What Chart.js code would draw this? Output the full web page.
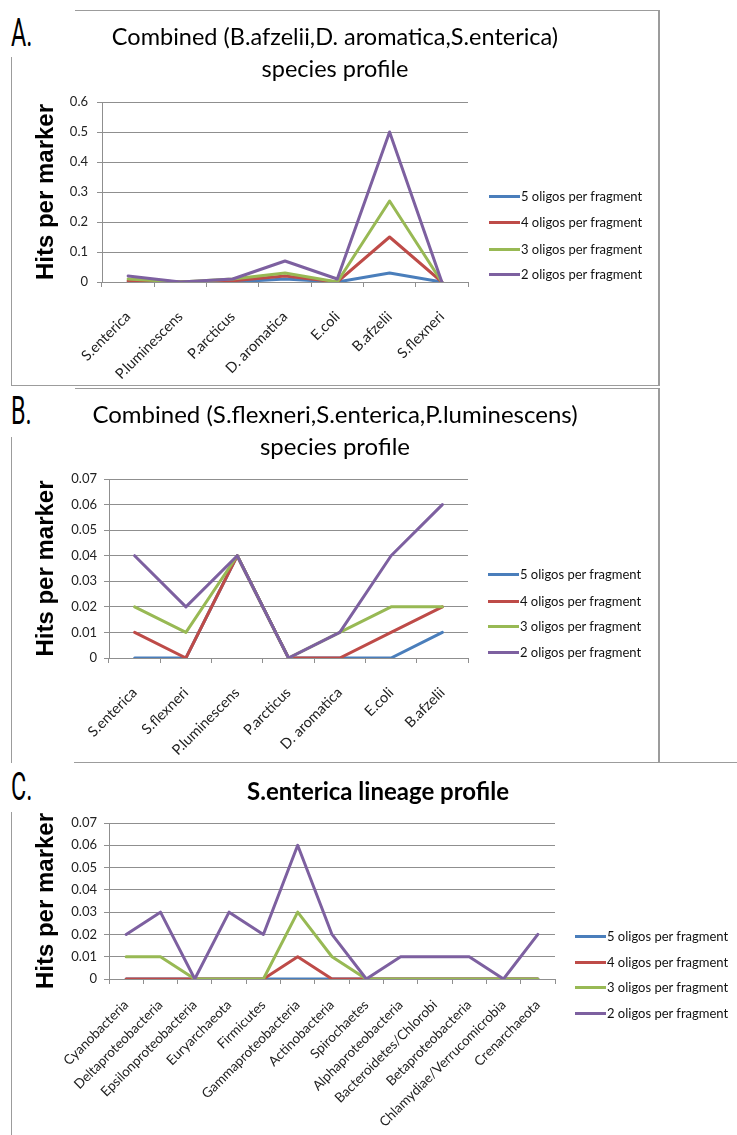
<!DOCTYPE html>
<html>
<head>
<meta charset="utf-8">
<title>Hits per marker profiles</title>
<script src="https://cdn.jsdelivr.net/npm/chart.js@4.4.0/dist/chart.umd.min.js"></script>
<style>
  html, body { margin: 0; padding: 0; background: #fff; }
  #page { position: relative; width: 737px; height: 1135px; overflow: hidden; }
  #page canvas { position: absolute; }
  .rule { position: absolute; background: #9c9c9c; }
  .letter {
    position: absolute; left: 11px; font-family: Roboto, "DejaVu Sans", sans-serif; font-weight: 400;
    font-size: 39px; line-height: 39px; color: #000; transform: scaleX(0.6); transform-origin: left top;
  }
  .legend { position: absolute; font-family: Lato, sans-serif; font-size: 13px; color: #111; }
  .legend div { position: absolute; white-space: nowrap; display: flex; align-items: center; height: 18px; }
  .legend span.swatch { display: inline-block; width: 31px; height: 3px; margin-right: 1px; }
</style>
</head>
<body>
<div id="page">
  <!-- panel frames -->
  <div class="rule" style="left:75px;top:10px;width:585px;height:1px"></div>
  <div class="rule" style="left:658px;top:10px;width:2px;height:376px"></div>
  <div class="rule" style="left:11px;top:385px;width:649px;height:1px"></div>
  <div class="rule" style="left:11px;top:57px;width:1px;height:329px"></div>

  <div class="rule" style="left:75px;top:388px;width:585px;height:1px"></div>
  <div class="rule" style="left:658px;top:388px;width:2px;height:375px"></div>
  <div class="rule" style="left:11px;top:437px;width:1px;height:326px"></div>

  <div class="rule" style="left:74px;top:762px;width:663px;height:1px"></div>
  <div class="rule" style="left:11px;top:812px;width:1px;height:323px"></div>

  <div class="letter" style="top:14px">A.</div>
  <div class="letter" style="top:392px">B.</div>
  <div class="letter" style="top:768px">C.</div>

  <canvas id="chartA" style="left:12px;top:12px" width="646" height="370"></canvas>
  <canvas id="chartB" style="left:12px;top:390px" width="646" height="368"></canvas>
  <canvas id="chartC" style="left:12px;top:765px" width="732" height="370"></canvas>

  <div class="legend" id="legendA"></div>
  <div class="legend" id="legendB"></div>
  <div class="legend" id="legendC"></div>
</div>

<script>
const seriesNames = ["5 oligos per fragment", "4 oligos per fragment", "3 oligos per fragment", "2 oligos per fragment"];
const seriesColors = ["#4a7ebb", "#be4b48", "#98b954", "#7d60a0"];

// A: combined B.afzelii / D. aromatica / S.enterica
const speciesA = ["S.enterica", "P.luminescens", "P.arcticus", "D. aromatica", "E.coli", "B.afzelii", "S.flexneri"];
const a5 = [0, 0, 0, 0.01, 0, 0.03, 0];
const a4 = [0.004, 0, 0.004, 0.02, 0, 0.15, 0];
const a3 = [0.01, 0, 0.01, 0.03, 0, 0.27, 0];
const a2 = [0.02, 0, 0.01, 0.07, 0.01, 0.5, 0];

// B: combined S.flexneri / S.enterica / P.luminescens
const speciesB = ["S.enterica", "S.flexneri", "P.luminescens", "P.arcticus", "D. aromatica", "E.coli", "B.afzelii"];
const b5 = [0, 0, 0.04, 0, 0, 0, 0.01];
const b4 = [0.01, 0, 0.04, 0, 0, 0.01, 0.02];
const b3 = [0.02, 0.01, 0.04, 0, 0.01, 0.02, 0.02];
const b2 = [0.04, 0.02, 0.04, 0, 0.01, 0.04, 0.06];

// C: S.enterica lineages
const lineages = ["Cyanobacteria", "Deltaproteobacteria", "Epsilonproteobacteria", "Euryarchaeota", "Firmicutes",
  "Gammaproteobacteria", "Actinobacteria", "Spirochaetes", "Alphaproteobacteria", "Bacteroidetes/Chlorobi",
  "Betaproteobacteria", "Chlamydiae/Verrucomicrobia", "Crenarchaeota"];
const c5 = [0, 0, 0, 0, 0, 0, 0, 0, 0, 0, 0, 0, 0];
const c4 = [0, 0, 0, 0, 0, 0.01, 0, 0, 0, 0, 0, 0, 0];
const c3 = [0.01, 0.01, 0, 0, 0, 0.03, 0.01, 0, 0, 0, 0, 0, 0];
const c2 = [0.02, 0.03, 0, 0.03, 0.02, 0.06, 0.02, 0, 0.01, 0.01, 0.01, 0, 0.02];

const gridColor = "#8f8f8f";
const yTickFont = { family: "Lato, sans-serif", size: 13 };

function buildChart(cfg) {
    const datasets = cfg.values.map((vals, i) => ({
        label: seriesNames[i],
        data: vals,
        borderColor: seriesColors[i],
        backgroundColor: seriesColors[i],
        borderWidth: 3,
        borderJoinStyle: "round",
        borderCapStyle: "round",
        pointRadius: 0,
        tension: 0,
        order: cfg.values.length - i, // 2 oligos drawn on top
    }));

    const chart = new Chart(document.getElementById(cfg.canvas), {
        type: "line",
        data: { labels: cfg.labels, datasets },
        options: {
            responsive: false,
            animation: false,
            events: [],
            layout: { padding: 0 },
            plugins: {
                legend: { display: false },
                tooltip: { enabled: false },
                title: {
                    display: true,
                    text: cfg.title,
                    color: "#000",
                    font: { family: "Lato, sans-serif", size: cfg.titleSize, weight: cfg.bold ? "bold" : "normal", lineHeight: "32px" },
                    padding: cfg.titlePadding,
                },
            },
            scales: {
                x: {
                    offset: true,
                    grid: { offset: true, drawOnChartArea: false, tickLength: 5, color: gridColor },
                    border: { color: gridColor },
                    ticks: {
                        minRotation: 45, maxRotation: 45, autoSkip: false,
                        padding: cfg.xPad, color: "#222",
                        font: { family: "Lato, sans-serif", size: cfg.xFont },
                    },
                    afterFit: (s) => { s.height = cfg.xHeight; },
                },
                y: {
                    min: 0,
                    max: cfg.yMax,
                    ticks: { stepSize: cfg.yStep, padding: cfg.tickPad, color: "#222", font: yTickFont },
                    grid: { color: gridColor, tickLength: 5 },
                    border: { color: gridColor },
                    title: {
                        display: true,
                        text: "Hits per marker",
                        color: "#000",
                        font: { family: "'Liberation Sans', Arial, sans-serif", size: 24, weight: "bold" },
                        padding: { top: 20, bottom: 0 },
                    },
                    afterFit: (s) => { s.width = cfg.yWidth; },
                },
                // empty right-hand box that keeps room for the legend
                side: {
                    position: "right",
                    ticks: { display: false },
                    grid: { display: false },
                    border: { display: false },
                    afterFit: (s) => { s.width = cfg.rightGap; },
                },
            },
        },
    });

    // legend built from the chart's own datasets
    const box = document.getElementById(cfg.legend);
    chart.data.datasets.forEach((ds, i) => {
        const row = document.createElement("div");
        row.style.left = cfg.legendX + "px";
        row.style.top = (cfg.legendRows[i] - 9) + "px";
        const sw = document.createElement("span");
        sw.className = "swatch";
        sw.style.background = ds.borderColor;
        row.appendChild(sw);
        row.appendChild(document.createTextNode(ds.label));
        box.appendChild(row);
    });
    return chart;
}

buildChart({
    canvas: "chartA", legend: "legendA",
    title: ["Combined (B.afzelii,D. aromatica,S.enterica)", "species profile"],
    bold: false, titleSize: 23.5, titlePadding: { top: 9, bottom: 17 },
    labels: speciesA, values: [a5, a4, a3, a2],
    yMax: 0.6, yStep: 0.1, tickPad: 9, yWidth: 90, rightGap: 190, xHeight: 100, xFont: 14.5, xPad: 21,
    legendX: 489, legendRows: [196, 222, 249, 274],
});

buildChart({
    canvas: "chartB", legend: "legendB",
    title: ["Combined (S.flexneri,S.enterica,P.luminescens)", "species profile"],
    bold: false, titleSize: 24, titlePadding: { top: 9, bottom: 16 },
    labels: speciesB, values: [b5, b4, b3, b2],
    yMax: 0.07, yStep: 0.01, tickPad: 7, yWidth: 97, rightGap: 190, xHeight: 100, xFont: 14.5, xPad: 21,
    legendX: 488, legendRows: [574, 601, 626, 652],
});

buildChart({
    canvas: "chartC", legend: "legendC",
    title: "S.enterica lineage profile",
    bold: true, titleSize: 24, titlePadding: { top: 11, bottom: 15 },
    labels: lineages, values: [c5, c4, c3, c2],
    yMax: 0.07, yStep: 0.01, tickPad: 7, yWidth: 97, rightGap: 189, xHeight: 156, xFont: 13.5, xPad: 13,
    legendX: 575, legendRows: [936, 962, 987, 1013],
});
</script>
</body>
</html>
